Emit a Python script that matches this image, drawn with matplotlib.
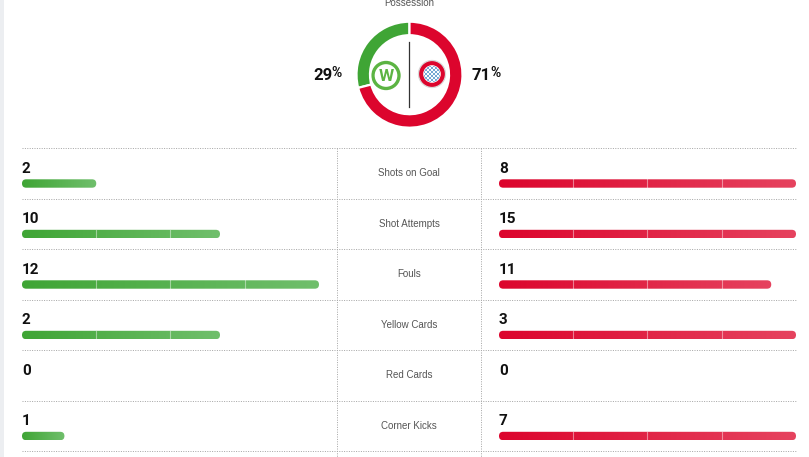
import numpy as np
import matplotlib
matplotlib.use("Agg")
import matplotlib.pyplot as plt
from matplotlib.patches import FancyBboxPatch, Circle, Rectangle
from matplotlib.colors import LinearSegmentedColormap

# ── data ───────────────────────────────────────────────────────────────────
categories = ["Shots on Goal", "Shot Attempts", "Fouls",
              "Yellow Cards", "Red Cards", "Corner Kicks"]
wolfsburg = [2, 10, 12, 2, 0, 1]
bayern    = [8, 15, 11, 3, 0, 7]
possession_labels = ["Wolfsburg", "Bayern"]
possession = [29, 71]

GREEN, GREEN_END = "#3fa535", "#70bf6c"
RED, RED_END     = "#dc052d", "#e6435f"
LINE = "#a8a8a8"
NUM_FONT = "Roboto"
LAB_FONT = "Liberation Sans"

W, H = 809, 457
fig = plt.figure(figsize=(W / 100, H / 100), dpi=100)
ax = fig.add_axes([0, 0, 1, 1])
ax.axis("off")

# left grey strip of the page
ax.add_patch(Rectangle((0, 0), 4.5, H, color="#eceef1", lw=0))

# ── table geometry (pixels) ────────────────────────────────────────────────
row_top, row_h = 148, 50.5
left_x0, right_x0, bar_w = 22, 499, 297
mid_l, mid_r = 337, 481
bar_h = 8.4


def grad_bar(x0, yc, width, c0, c1):
    if width <= 0:
        return
    patch = FancyBboxPatch((x0, yc - bar_h / 2), width, bar_h,
                           boxstyle="round,pad=0,rounding_size=4.2",
                           lw=0, facecolor="none")
    ax.add_patch(patch)
    cmap = LinearSegmentedColormap.from_list("g", [c0, c1])
    im = ax.imshow(np.linspace(0, 1, 256)[None, :], cmap=cmap, aspect="auto",
                   extent=(x0, x0 + width, yc + bar_h / 2, yc - bar_h / 2),
                   interpolation="bilinear")
    im.set_clip_path(patch)
    # segment dividers at quarters of the full bar width
    for k in range(1, 4):
        xd = x0 + bar_w * k / 4
        if xd < x0 + width - 3:
            ax.plot([xd, xd], [yc - bar_h / 2, yc + bar_h / 2],
                    color="white", lw=0.8, alpha=0.45)


n = len(categories)
for i, (cat, a, b) in enumerate(zip(categories, wolfsburg, bayern)):
    top = row_top + i * row_h
    m = max(a, b)
    ax.text(left_x0, top + 24.8, str(a), fontsize=11, fontweight="bold",
            family=NUM_FONT, color="#111111", va="baseline", ha="left")
    ax.text(right_x0, top + 24.8, str(b), fontsize=11, fontweight="bold",
            family=NUM_FONT, color="#111111", va="baseline", ha="left")
    ax.text((mid_l + mid_r) / 2, top + row_h / 2, cat, fontsize=7,
            family=LAB_FONT, color="#555555", ha="center", va="center")
    if m > 0:
        grad_bar(left_x0, top + 35.5, bar_w * a / m, GREEN, GREEN_END)
        grad_bar(right_x0, top + 35.5, bar_w * b / m, RED, RED_END)

# dotted grid
for i in range(n + 1):
    y = row_top + i * row_h
    ax.plot([left_x0, 796], [y, y], color=LINE, lw=0.72,
            linestyle=(0, (1, 1.4)))
for x in (mid_l, mid_r):
    ax.plot([x, x], [row_top, H], color=LINE, lw=0.72,
            linestyle=(0, (1, 1.4)))

# ── possession donut ───────────────────────────────────────────────────────
cx, cy, r = 409.5, 74.7, 53
ax.text(cx, 6.5, "Possession", fontsize=7, family=LAB_FONT, color="#555555",
        ha="center", va="baseline")
ax.plot([cx, cx], [42, 107], color="#333333", lw=0.9)

pax = fig.add_axes([(cx - r) / W, (H - cy - r) / H, 2 * r / W, 2 * r / H])
pax.pie(possession, colors=[GREEN, RED], startangle=90, counterclock=True,
        radius=1, wedgeprops=dict(width=13.5 / r, edgecolor="white", lw=1.6))
pax.set_xlim(-1, 1)
pax.set_ylim(-1, 1)
pax.axis("off")

for val, x in zip(possession, (313, 472)):
    t = ax.text(x, 80, f"{val}", fontsize=12, fontweight="bold",
                family=NUM_FONT, color="#111111", va="baseline", ha="left")
    ax.annotate("%", xy=(1, 1), xycoords=t, xytext=(-0.5, 1.5),
                textcoords="offset points", fontsize=10, fontweight="bold",
                family=NUM_FONT, color="#111111", va="top", ha="left")

# simplified club crests
ax.add_patch(Circle((386, 75.5), 13, facecolor="white",
                    edgecolor="#5cb443", lw=2.4))
ax.text(386, 76.5, "W", fontsize=12.5, fontweight="bold", family=NUM_FONT,
        color="#5cb443", ha="center", va="center")

ax.add_patch(Circle((432, 74), 13.5, facecolor=RED, edgecolor="#d9d9d9", lw=0.9))
ax.add_patch(Circle((432, 74), 8.8, facecolor="white", lw=0))
inner = Circle((432, 74), 8, facecolor="#1f6fb8", lw=0)
ax.add_patch(inner)
for d in np.arange(-16, 17, 4):
    for sgn in (1, -1):
        ln, = ax.plot([432 - 10, 432 + 10], [74 + d - sgn * 10, 74 + d + sgn * 10],
                      color="white", lw=0.9)
        ln.set_clip_path(inner)

ax.set_xlim(0, W)
ax.set_ylim(H, 0)
fig.savefig("out.png", dpi=100)
